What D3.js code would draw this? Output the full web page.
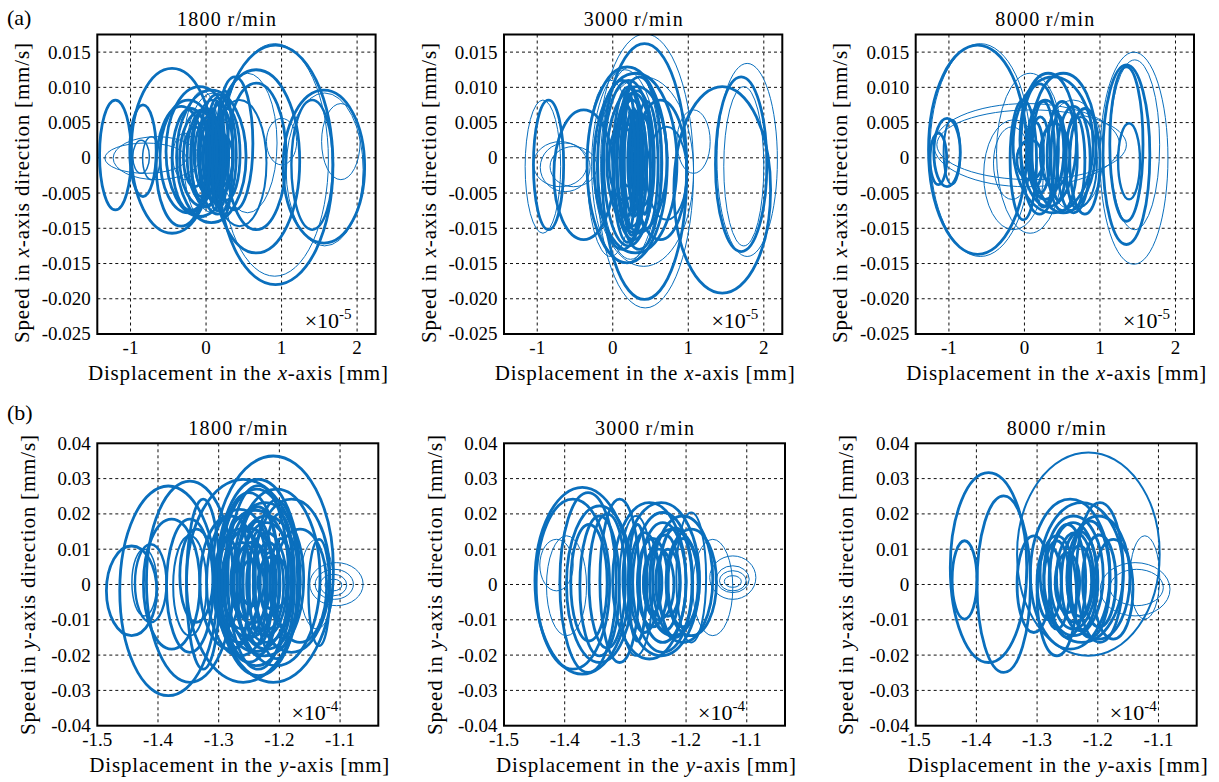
<!DOCTYPE html>
<html>
<head>
<meta charset="utf-8">
<script src="https://cdn.jsdelivr.net/npm/d3@7"></script>
<style>
  body { margin: 0; background: #fff; }
  svg { display: block; }
  text { font-family: "Liberation Serif", "Times New Roman", serif; fill: #000; }
</style>
</head>
<body>
<svg id="chart" width="1219" height="782"></svg>
<script>
// ---- tick values / labels ----
const speeds = ["1800", "3000", "8000"];
const xTicksA = [-1, 0, 1, 2];
const xTickLabelsA = ["-1", "0", "1", "2"];
const yTicksA = [0.015, 0.01, 0.005, 0, -0.005, -0.01, -0.015, -0.02, -0.025];
// the original figure prints -0.015 twice
const yTickLabelsA = ["0.015", "0.010", "0.005", "0", "-0.005", "-0.015", "-0.015", "-0.020", "-0.025"];
const xTicksB = [-1.5, -1.4, -1.3, -1.2, -1.1];
const xTickLabelsB = ["-1.5", "-1.4", "-1.3", "-1.2", "-1.1"];
const yTicksB = [0.04, 0.03, 0.02, 0.01, 0, -0.01, -0.02, -0.03, -0.04];
const yTickLabelsB = ["0.04", "0.03", "0.02", "0.01", "0", "-0.01", "-0.02", "-0.03", "-0.04"];

// ---- orbits: [xMin, xMax, vMin, vMax, lineWidth] ----
const orbitsX1800 = [
  [0.16, 1.68, -0.0180, 0.0160, 2.8], [0.20, 1.62, -0.0168, 0.0162, 1],
  [1.02, 2.10, -0.0121, 0.0096, 2.8], [1.06, 2.08, -0.0125, 0.0092, 1],
  [1.13, 1.68, -0.0102, 0.0082, 2.4], [1.53, 2.04, -0.0031, 0.0077, 1],
  [0.80, 1.20, -0.0010, 0.0056, 1], [0.09, 1.24, -0.0135, 0.0125, 2.8],
  [-1.41, -0.99, -0.0074, 0.0082, 2.8], [-1.01, -0.66, -0.0055, 0.0075, 2.8],
  [-0.99, 0.09, -0.0107, 0.0127, 2.8], [-1.34, -0.26, -0.0022, 0.0021, 1],
  [-1.23, -0.08, -0.0031, 0.0030, 1], [-0.97, -0.75, -0.0022, 0.0025, 1.5],
  [-0.84, -0.61, -0.0031, 0.0030, 1.5],
  [-0.53, 0.36, -0.0083, 0.0101, 2.8], [-0.39, 0.53, -0.0092, 0.0096, 2.8],
  [-0.26, 0.45, -0.0078, 0.0092, 1], [-0.61, 0.14, -0.0078, 0.0082, 2.8],
  [-0.35, 0.27, -0.0069, 0.0068, 2.8], [-0.17, 0.36, -0.0059, 0.0082, 2],
  [-0.08, 0.27, -0.0059, 0.0058, 2.8], [-0.04, 0.18, -0.0050, 0.0044, 2.8],
  [0.00, 0.36, -0.0041, 0.0035, 2.8], [-0.30, 0.00, -0.0041, 0.0044, 2.8],
  [-0.44, -0.13, -0.0031, 0.0035, 1], [0.14, 0.62, -0.0074, 0.0115, 2.8],
  [0.16, 0.94, -0.0078, 0.0120, 1], [-0.66, 0.00, -0.0097, 0.0073, 2.8],
  [0.09, 0.80, -0.0097, 0.0082, 2], [0.27, 1.06, -0.0102, 0.0106, 2.8],
  [-0.20, 0.20, -0.0070, 0.0070, 2.8], [0.05, 0.25, -0.0065, 0.0075, 2.8],
  [-0.15, 0.10, -0.0045, 0.0050, 2.8],
  [-0.25, 0.15, -0.0060, 0.0065, 2.8], [0.00, 0.30, -0.0075, 0.0085, 2.8],
  [-0.10, 0.40, -0.0080, 0.0090, 2.8], [0.05, 0.20, -0.0035, 0.0040, 3],
  [-0.05, 0.12, -0.0025, 0.0030, 3], [-0.45, 0.05, -0.0075, 0.0070, 2.8],
  [0.10, 0.45, -0.0060, 0.0070, 2.8], [0.15, 0.35, -0.0080, 0.0095, 2.8],
  [-0.30, 0.20, -0.0085, 0.0095, 1], [0.02, 0.14, -0.0060, 0.0070, 3],
  [-0.10, 0.20, -0.0050, 0.0060, 3], [0.08, 0.22, -0.0070, 0.0080, 3],
  [-0.20, 0.05, -0.0055, 0.0060, 3]
];
const orbitsX3000 = [
  [1.36, 2.04, -0.0133, 0.0115, 2.8], [1.38, 2.18, -0.0140, 0.0134, 1],
  [1.47, 2.00, -0.0125, 0.0101, 1], [0.81, 2.09, -0.0192, 0.0101, 2.8],
  [-0.14, 0.98, -0.0201, 0.0162, 2.8], [-0.21, 1.07, -0.0213, 0.0176, 1],
  [-1.05, -0.65, -0.0102, 0.0082, 2.8], [-1.16, -0.69, -0.0107, 0.0082, 1],
  [-1.05, -0.34, -0.0041, 0.0023, 1], [-0.96, -0.30, -0.0048, 0.0021, 1],
  [-0.83, -0.21, -0.0041, 0.0016, 1], [-0.78, 0.01, -0.0116, 0.0068, 2.8],
  [-0.34, 0.72, -0.0149, 0.0129, 2.8], [-0.25, 0.85, -0.0135, 0.0120, 2.8],
  [-0.16, 0.63, -0.0144, 0.0129, 1], [-0.12, 0.54, -0.0125, 0.0110, 2.8],
  [-0.08, 0.72, -0.0107, 0.0101, 2.8], [0.01, 0.54, -0.0116, 0.0092, 2.8],
  [0.06, 0.45, -0.0097, 0.0082, 2.8], [0.15, 0.41, -0.0083, 0.0068, 2.8],
  [0.23, 0.54, -0.0069, 0.0058, 2.8], [-0.34, 0.28, -0.0140, 0.0110, 1],
  [-0.25, 1.07, -0.0154, 0.0115, 1], [0.28, 0.98, -0.0116, 0.0082, 2.8],
  [0.45, 0.98, -0.0088, 0.0044, 2], [0.85, 1.29, -0.0022, 0.0068, 1],
  [-0.05, 0.35, -0.0060, 0.0050, 2.8], [0.10, 0.30, -0.0040, 0.0040, 2.8],
  [0.00, 0.40, -0.0120, 0.0100, 2.8], [0.10, 0.55, -0.0105, 0.0095, 2.8],
  [0.20, 0.40, -0.0070, 0.0060, 3], [0.25, 0.45, -0.0050, 0.0040, 3],
  [-0.20, 0.45, -0.0130, 0.0110, 2.8], [0.05, 0.65, -0.0130, 0.0115, 2.8],
  [0.30, 0.60, -0.0100, 0.0080, 2.8], [0.15, 0.30, -0.0100, 0.0090, 3],
  [-0.28, 0.60, -0.0150, 0.0125, 1], [0.35, 0.50, -0.0080, 0.0060, 3],
  [0.12, 0.38, -0.0110, 0.0100, 3], [0.22, 0.34, -0.0080, 0.0070, 3],
  [0.05, 0.30, -0.0085, 0.0075, 3]
];
const orbitsX8000 = [
  [-1.27, 0.03, -0.0137, 0.0160, 2.8], [-1.25, 0.08, -0.0140, 0.0162, 1],
  [-1.20, -0.85, -0.0041, 0.0056, 2.8], [-1.07, -0.85, -0.0038, 0.0054, 2],
  [-1.25, -1.03, -0.0038, 0.0035, 2.8], [-1.20, 1.26, -0.0041, 0.0077, 1],
  [-1.16, 1.35, -0.0031, 0.0068, 1], [1.04, 1.66, -0.0123, 0.0132, 2.8],
  [1.13, 1.57, -0.0090, 0.0129, 2.8], [1.00, 1.90, -0.0151, 0.0150, 1],
  [1.13, 1.79, -0.0102, 0.0139, 1], [1.24, 1.53, -0.0059, 0.0049, 2.4],
  [-0.15, 0.91, -0.0078, 0.0115, 2.8], [-0.06, 0.69, -0.0069, 0.0120, 2.8],
  [0.03, 0.52, -0.0059, 0.0082, 2.8], [0.08, 0.34, -0.0050, 0.0058, 2.8],
  [0.21, 0.60, -0.0041, 0.0049, 2.8], [0.43, 0.87, -0.0078, 0.0073, 2.8],
  [0.52, 0.96, -0.0069, 0.0058, 2], [-0.10, 0.25, -0.0031, 0.0025, 2.8],
  [-0.19, 0.16, -0.0088, 0.0082, 2.8], [-0.37, 0.52, -0.0107, 0.0120, 1],
  [-0.54, 0.25, -0.0102, 0.0054, 1], [-0.41, 0.08, -0.0059, 0.0044, 1],
  [0.25, 1.04, -0.0074, 0.0082, 1], [0.08, 0.95, -0.0078, 0.0120, 2.8],
  [0.60, 1.00, -0.0080, 0.0070, 2.8],
  [0.10, 0.40, -0.0070, 0.0080, 2.8], [0.30, 0.70, -0.0075, 0.0080, 2.8],
  [0.05, 0.25, -0.0040, 0.0050, 3], [0.35, 0.55, -0.0060, 0.0060, 3],
  [0.55, 0.80, -0.0070, 0.0060, 2.8], [-0.05, 0.45, -0.0080, 0.0105, 2.8]
];
const orbitsY1800 = [
  [-1.485, -1.402, -0.0145, 0.0109, 2.8], [-1.443, -1.402, -0.0089, 0.0100, 1.5],
  [-1.438, -1.386, -0.0107, 0.0114, 2.4], [-1.463, -1.303, -0.0315, 0.0279, 2.8],
  [-1.419, -1.276, -0.0277, 0.0293, 2.8], [-1.309, -1.111, -0.0277, 0.0364, 2.8],
  [-1.353, -1.166, -0.0277, 0.0298, 2.8], [-1.303, -1.166, -0.0258, 0.0298, 2.8],
  [-1.298, -1.177, -0.0230, 0.0270, 2.8], [-1.287, -1.160, -0.0202, 0.0232, 2.8],
  [-1.276, -1.166, -0.0183, 0.0194, 2.8], [-1.265, -1.177, -0.0164, 0.0175, 2.8],
  [-1.254, -1.188, -0.0145, 0.0147, 2.8], [-1.243, -1.193, -0.0126, 0.0119, 2.8],
  [-1.232, -1.199, -0.0089, 0.0091, 2.8], [-1.320, -1.210, -0.0202, 0.0213, 2.8],
  [-1.309, -1.221, -0.0164, 0.0157, 2.8], [-1.292, -1.232, -0.0126, 0.0119, 2.8],
  [-1.331, -1.232, -0.0183, 0.0194, 2.8], [-1.276, -1.133, -0.0230, 0.0270, 2.8],
  [-1.243, -1.117, -0.0192, 0.0242, 2.8], [-1.210, -1.122, -0.0164, 0.0157, 2.8],
  [-1.386, -1.309, -0.0192, 0.0185, 2.8], [-1.375, -1.320, -0.0145, 0.0138, 2],
  [-1.364, -1.309, -0.0107, 0.0157, 2.8], [-1.353, -1.298, -0.0240, 0.0242, 2.8],
  [-1.424, -1.331, -0.0183, 0.0185, 2.8],
  [-1.150, -1.062, -0.0060, 0.0062, 1], [-1.141, -1.078, -0.0042, 0.0043, 1],
  [-1.133, -1.089, -0.0032, 0.0029, 1], [-1.125, -1.097, -0.0018, 0.0015, 1],
  [-1.166, -1.111, -0.0126, 0.0128, 1], [-1.152, -1.117, -0.0174, 0.0128, 2.4],
  [-1.300, -1.200, -0.0220, 0.0260, 2.8], [-1.285, -1.185, -0.0240, 0.0280, 2.8],
  [-1.270, -1.200, -0.0200, 0.0220, 3], [-1.260, -1.210, -0.0170, 0.0180, 3],
  [-1.250, -1.220, -0.0140, 0.0150, 3], [-1.240, -1.170, -0.0210, 0.0240, 2.8],
  [-1.225, -1.175, -0.0180, 0.0200, 2.8], [-1.290, -1.250, -0.0180, 0.0190, 3],
  [-1.215, -1.180, -0.0120, 0.0130, 3], [-1.280, -1.240, -0.0090, 0.0100, 3],
  [-1.295, -1.205, -0.0150, 0.0160, 3], [-1.275, -1.215, -0.0110, 0.0120, 3],
  [-1.265, -1.225, -0.0060, 0.0070, 3], [-1.300, -1.180, -0.0190, 0.0210, 3],
  [-1.235, -1.185, -0.0070, 0.0080, 3], [-1.305, -1.265, -0.0120, 0.0130, 3]
];
const orbitsY3000 = [
  [-1.449, -1.293, -0.0254, 0.0275, 2.8], [-1.447, -1.326, -0.0240, 0.0242, 2.8],
  [-1.430, -1.364, -0.0145, 0.0138, 1], [-1.441, -1.386, -0.0018, 0.0128, 1],
  [-1.408, -1.315, -0.0249, 0.0260, 2.8], [-1.397, -1.288, -0.0221, 0.0223, 2.8],
  [-1.375, -1.310, -0.0202, 0.0194, 2.8], [-1.342, -1.277, -0.0221, 0.0242, 2.8],
  [-1.321, -1.200, -0.0211, 0.0232, 2.8], [-1.304, -1.178, -0.0202, 0.0232, 2.8],
  [-1.288, -1.189, -0.0192, 0.0204, 2.8], [-1.277, -1.200, -0.0164, 0.0175, 2.8],
  [-1.266, -1.178, -0.0145, 0.0157, 2.8], [-1.255, -1.156, -0.0164, 0.0194, 2.8],
  [-1.233, -1.150, -0.0145, 0.0157, 2.8], [-1.293, -1.244, -0.0136, 0.0147, 2.8],
  [-1.216, -1.167, -0.0164, 0.0204, 2], [-1.310, -1.255, -0.0202, 0.0194, 2],
  [-1.161, -1.085, -0.0042, 0.0081, 1], [-1.150, -1.096, -0.0023, 0.0053, 1],
  [-1.145, -1.101, -0.0018, 0.0039, 1], [-1.137, -1.109, -0.0008, 0.0025, 1],
  [-1.189, -1.123, -0.0145, 0.0128, 1], [-1.270, -1.220, -0.0100, 0.0100, 2.8],
  [-1.280, -1.230, -0.0120, 0.0130, 3], [-1.260, -1.210, -0.0130, 0.0140, 3],
  [-1.245, -1.190, -0.0150, 0.0160, 3], [-1.230, -1.180, -0.0120, 0.0130, 3],
  [-1.390, -1.330, -0.0160, 0.0170, 2.8], [-1.360, -1.300, -0.0180, 0.0200, 2.8],
  [-1.270, -1.240, -0.0080, 0.0090, 3], [-1.250, -1.210, -0.0090, 0.0100, 3],
  [-1.295, -1.265, -0.0160, 0.0170, 3]
];
const orbitsY8000 = [
  [-1.440, -1.399, -0.0098, 0.0124, 2.8], [-1.443, -1.317, -0.0221, 0.0317, 2.8],
  [-1.399, -1.311, -0.0249, 0.0251, 2.8], [-1.333, -1.098, -0.0202, 0.0374, 2],
  [-1.333, -1.278, -0.0136, 0.0138, 2.8], [-1.311, -1.180, -0.0183, 0.0242, 2.8],
  [-1.295, -1.158, -0.0164, 0.0232, 2.8], [-1.289, -1.191, -0.0145, 0.0194, 2.8],
  [-1.279, -1.202, -0.0126, 0.0175, 2.8], [-1.268, -1.207, -0.0107, 0.0147, 2.8],
  [-1.251, -1.147, -0.0155, 0.0194, 2.8], [-1.235, -1.158, -0.0164, 0.0232, 2.8],
  [-1.300, -1.235, -0.0202, 0.0138, 2.8], [-1.289, -1.246, -0.0126, 0.0124, 2.8],
  [-1.207, -1.142, -0.0155, 0.0128, 2.8], [-1.147, -1.098, -0.0098, 0.0138, 1],
  [-1.196, -1.081, -0.0089, 0.0062, 1], [-1.180, -1.092, -0.0060, 0.0043, 1],
  [-1.280, -1.220, -0.0150, 0.0170, 3], [-1.260, -1.200, -0.0130, 0.0150, 3],
  [-1.245, -1.180, -0.0150, 0.0180, 3], [-1.300, -1.260, -0.0100, 0.0110, 3],
  [-1.225, -1.170, -0.0120, 0.0140, 3], [-1.270, -1.230, -0.0080, 0.0090, 3],
  [-1.250, -1.210, -0.0090, 0.0110, 3]
];

// ---- layout ----
const svg = d3.select('#chart');
const colLeft = [97.3, 504, 915.7];
const lineColor = '#0a6fbd';

const rows = [
  {
    label: '(a)', labelY: 25, top: 34.5, height: 299.5, width: 278.3,
    xDomain: [-1.44, 2.245], yDomain: [-0.025, 0.0175],
    xTicks: xTicksA, xTickLabels: xTickLabelsA, yTicks: yTicksA, yTickLabels: yTickLabelsA,
    axis: 'x', exponent: '-5', expRight: 24, titleShift: -10, yLabelOffset: 75, yLabelCenter: 193,
    xTickBaseline: 353.5, xLabelBaseline: 380,
    orbits: [orbitsX1800, orbitsX3000, orbitsX8000]
  },
  {
    label: '(b)', labelY: 420, top: 443.3, height: 282.4, width: 281,
    xDomain: [-1.5, -1.037], yDomain: [-0.04, 0.04],
    xTicks: xTicksB, xTickLabels: xTickLabelsB, yTicks: yTicksB, yTickLabels: yTickLabelsB,
    axis: 'y', exponent: '-4', expRight: 40, titleShift: 0, yLabelOffset: 69, yLabelCenter: 585,
    xTickBaseline: 746.5, xLabelBaseline: 772,
    orbits: [orbitsY1800, orbitsY3000, orbitsY8000]
  }
];

rows.forEach((row, ri) => {
  svg.append('text')
    .attr('x', 7).attr('y', row.labelY)
    .style('font-size', '22px')
    .text(row.label);

  colLeft.forEach((left, ci) => {
    const g = svg.append('g').attr('transform', `translate(${left},${row.top})`);
    const x = d3.scaleLinear().domain(row.xDomain).range([0, row.width]);
    const y = d3.scaleLinear().domain(row.yDomain).range([row.height, 0]);
    const clipId = `clip-${ri}-${ci}`;

    g.append('defs').append('clipPath').attr('id', clipId)
      .append('rect').attr('width', row.width).attr('height', row.height);

    // dashed grid
    const grid = g.append('g').attr('class', 'grid')
      .attr('stroke', '#111').attr('stroke-width', 1).attr('stroke-dasharray', '3,3');
    grid.selectAll('line.v')
      .data(row.xTicks.filter(t => x(t) > 1 && x(t) < row.width - 1))
      .join('line').attr('class', 'v')
      .attr('x1', d => x(d)).attr('x2', d => x(d))
      .attr('y1', 0).attr('y2', row.height);
    grid.selectAll('line.h')
      .data(row.yTicks.filter(t => y(t) > 1 && y(t) < row.height - 1))
      .join('line').attr('class', 'h')
      .attr('y1', d => y(d)).attr('y2', d => y(d))
      .attr('x1', 0).attr('x2', row.width);

    // phase orbits
    g.append('g').attr('clip-path', `url(#${clipId})`)
      .selectAll('ellipse')
      .data(row.orbits[ci])
      .join('ellipse')
      .attr('cx', d => x((d[0] + d[1]) / 2))
      .attr('cy', d => y((d[2] + d[3]) / 2))
      .attr('rx', d => (x(d[1]) - x(d[0])) / 2)
      .attr('ry', d => (y(d[2]) - y(d[3])) / 2)
      .attr('fill', 'none')
      .attr('stroke', lineColor)
      .attr('stroke-width', d => d[4]);

    // frame
    g.append('rect')
      .attr('width', row.width).attr('height', row.height)
      .attr('fill', 'none').attr('stroke', '#000').attr('stroke-width', 2);

    // tick labels
    g.selectAll('text.xt')
      .data(row.xTicks)
      .join('text').attr('class', 'xt')
      .attr('x', d => x(d))
      .attr('y', row.xTickBaseline - row.top)
      .attr('text-anchor', 'middle')
      .style('font-size', '19px')
      .text((d, i) => row.xTickLabels[i]);
    g.selectAll('text.yt')
      .data(row.yTicks)
      .join('text').attr('class', 'yt')
      .attr('x', -6.5)
      .attr('y', d => y(d))
      .attr('dy', '0.34em')
      .attr('text-anchor', 'end')
      .style('font-size', '19px')
      .text((d, i) => row.yTickLabels[i]);

    // exponent note
    const ex = g.append('text')
      .attr('x', row.width - row.expRight)
      .attr('y', row.height - 6)
      .attr('text-anchor', 'end')
      .style('font-size', '22px');
    ex.append('tspan').text('×10');
    ex.append('tspan').attr('dy', -9).style('font-size', '15px').text(row.exponent);

    // title
    svg.append('text')
      .attr('x', left + row.width / 2 + row.titleShift)
      .attr('y', row.top - 8.5)
      .attr('text-anchor', 'middle')
      .attr('textLength', 99).attr('lengthAdjust', 'spacing')
      .style('font-size', '20px')
      .text(`${speeds[ci]}\u2009r/min`);

    // x label
    const xl = svg.append('text')
      .attr('x', left + row.width / 2 + 1.5)
      .attr('y', row.xLabelBaseline)
      .attr('text-anchor', 'middle')
      .attr('textLength', 300).attr('lengthAdjust', 'spacing')
      .style('font-size', '21px');
    xl.append('tspan').text('Displacement in the ');
    xl.append('tspan').style('font-style', 'italic').text(row.axis);
    xl.append('tspan').text('-axis [mm]');

    // y label
    const cx = left - row.yLabelOffset;
    const yl = svg.append('text')
      .attr('transform', `translate(${cx},${row.yLabelCenter}) rotate(-90)`)
      .attr('text-anchor', 'middle')
      .attr('dy', '0.32em')
      .attr('textLength', 300).attr('lengthAdjust', 'spacing')
      .style('font-size', '21px');
    yl.append('tspan').text('Speed in ');
    yl.append('tspan').style('font-style', 'italic').text(row.axis);
    yl.append('tspan').text('-axis direction [mm/s]');
  });
});
</script>
</body>
</html>
